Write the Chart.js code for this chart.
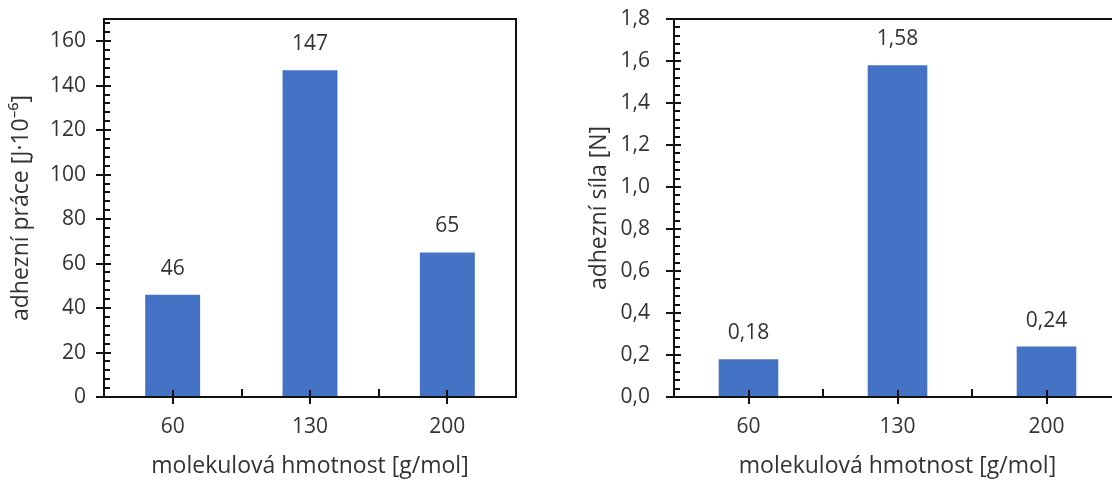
<!DOCTYPE html>
<html>
<head>
<meta charset="utf-8">
<script src="https://cdn.jsdelivr.net/npm/chart.js@4.4.1/dist/chart.umd.min.js"></script>
<style>
  html, body { margin: 0; padding: 0; background: #fff; }
  #wrap { position: relative; width: 1112px; height: 480px; overflow: hidden; }
  .box { position: absolute; top: 0; height: 480px; }
  #box-work  { left: 0;     width: 540px; }
  #box-force { left: 560px; width: 580px; }
</style>
</head>
<body>
<div id="wrap">
  <div class="box" id="box-work"><canvas id="chart-work"></canvas></div>
  <div class="box" id="box-force"><canvas id="chart-force"></canvas></div>
</div>
<script>
// ---- data ---------------------------------------------------
const MOLAR_MASS   = ['60', '130', '200'];
const WORK_VALUES  = [46, 147, 65];          // adhezní práce [J·10^-6]
const FORCE_VALUES = [0.18, 1.58, 0.24];     // adhezní síla [N]
const WORK_TICKS   = [0, 20, 40, 60, 80, 100, 120, 140, 160];
const FORCE_TICKS  = [0, 0.2, 0.4, 0.6, 0.8, 1.0, 1.2, 1.4, 1.6, 1.8];

const BAR_BLUE  = '#4472C4';
const TEXT_GREY = '#333333';
const FONT      = '"Open Sans", "Noto Sans", sans-serif';

const comma = (v, d) => v.toFixed(d).replace('.', ',');

// Excel-like axes: frame, cross ticks on majors, inside minor ticks
const excelAxes = {
  id: 'excelAxes',
  afterDatasetsDraw(chart, args, opts) {
    const { ctx, chartArea: a, scales: { x, y } } = chart;
    ctx.save();
    ctx.strokeStyle = '#111';
    ctx.lineWidth = 2;
    ctx.beginPath();
    ctx.rect(a.left, a.top, a.right - a.left, a.bottom - a.top);
    ctx.stroke();

    ctx.beginPath();
    // y majors (cross) + minors (inside)
    y.ticks.forEach(t => {
      const py = Math.round(y.getPixelForValue(t.value));
      ctx.moveTo(a.left - 8, py);
      ctx.lineTo(a.left + 7, py);
    });
    const minor = opts.minorStep;
    const count = Math.floor((y.max - y.min) / minor + 1e-6);
    for (let i = 0; i <= count; i++) {
      const py = Math.round(y.getPixelForValue(y.min + i * minor));
      ctx.moveTo(a.left, py);
      ctx.lineTo(a.left + 6, py);
    }
    // x: cross ticks at categories, inside ticks between them
    const n = chart.data.labels.length;
    for (let i = 0; i < n; i++) {
      const px = Math.round(x.getPixelForValue(i));
      ctx.moveTo(px, a.bottom - 7);
      ctx.lineTo(px, a.bottom + 7);
      if (i < n - 1) {
        const bx = Math.round((px + x.getPixelForValue(i + 1)) / 2);
        ctx.moveTo(bx, a.bottom);
        ctx.lineTo(bx, a.bottom - 8);
      }
    }
    ctx.stroke();
    ctx.restore();
  }
};

// value labels above the bars
const valueLabels = {
  id: 'valueLabels',
  afterDatasetsDraw(chart, args, opts) {
    const { ctx } = chart;
    const ds = chart.data.datasets[0];
    ctx.save();
    ctx.font = '21px ' + FONT;
    ctx.fillStyle = TEXT_GREY;
    ctx.textAlign = 'center';
    ctx.textBaseline = 'middle';
    chart.getDatasetMeta(0).data.forEach((bar, i) => {
      ctx.fillText(opts.format(ds.data[i]), bar.x, bar.y - 26);
    });
    ctx.restore();
  }
};

function makeChart(id, cfg) {
  return new Chart(document.getElementById(id), {
    type: 'bar',
    data: {
      labels: MOLAR_MASS,
      datasets: [{
        data: cfg.values,
        backgroundColor: BAR_BLUE,
        barPercentage: 0.4,
        categoryPercentage: 1
      }]
    },
    options: {
      responsive: true,
      maintainAspectRatio: false,
      animation: false,
      layout: { padding: { top: 19, right: cfg.padRight, bottom: 0, left: 0 } },
      plugins: {
        legend: { display: false },
        tooltip: { enabled: false },
        excelAxes: { minorStep: cfg.minorStep },
        valueLabels: { format: cfg.labelFmt }
      },
      scales: {
        x: {
          grid: { display: false, drawTicks: false },
          border: { display: false },
          ticks: { color: TEXT_GREY, font: { family: FONT, size: 21 }, padding: 17 },
          title: {
            display: true,
            text: 'molekulová hmotnost [g/mol]',
            color: TEXT_GREY,
            font: { family: FONT, size: 23 },
            padding: { top: 0, bottom: 0 }
          },
          afterFit: s => { s.height = 83; s.paddingLeft = 0; s.paddingRight = 0; }
        },
        y: {
          min: 0,
          max: cfg.yMax,
          grid: { display: false, drawTicks: false },
          border: { display: false },
          afterBuildTicks: s => { s.ticks = cfg.ticks.map(v => ({ value: v })); },
          ticks: {
            color: TEXT_GREY,
            font: { family: FONT, size: 21 },
            padding: cfg.tickPad,
            callback: cfg.tickFmt
          },
          title: {
            display: true,
            text: cfg.yTitle,
            color: TEXT_GREY,
            font: { family: FONT, size: 23 },
            padding: { top: cfg.titlePad, bottom: 0 }
          },
          afterFit: s => { s.width = cfg.yWidth; s.paddingTop = 0; s.paddingBottom = 0; }
        }
      }
    },
    plugins: [excelAxes, valueLabels]
  });
}

makeChart('chart-work', {
  values: WORK_VALUES,
  ticks: WORK_TICKS,
  yMax: 170,
  minorStep: 4,
  yTitle: 'adhezní práce [J·10⁻⁶]',
  tickFmt: v => String(v),
  labelFmt: v => String(v),
  yWidth: 104,
  tickPad: 18,
  titlePad: 8,
  padRight: 24
});

makeChart('chart-force', {
  values: FORCE_VALUES,
  ticks: FORCE_TICKS,
  yMax: 1.8,
  minorStep: 0.04,
  yTitle: 'adhezní síla [N]',
  tickFmt: v => comma(v, 1),
  labelFmt: v => comma(v, 2),
  yWidth: 114,
  tickPad: 24,
  titlePad: 26,
  padRight: 19
});
</script>
</body>
</html>
